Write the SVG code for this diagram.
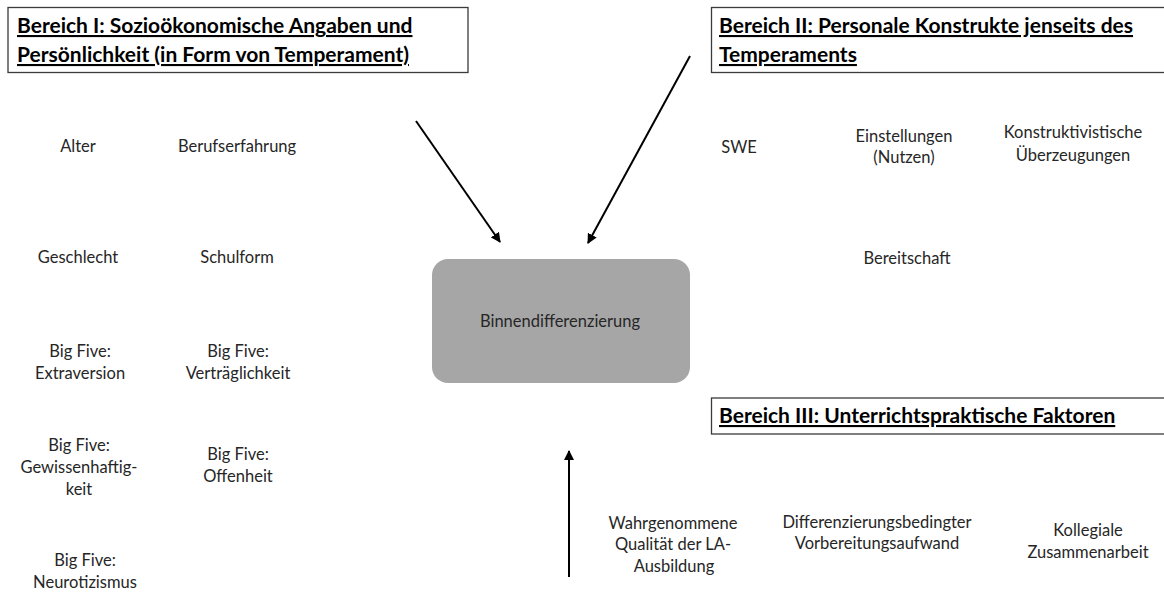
<svg xmlns="http://www.w3.org/2000/svg" width="1164" height="593" viewBox="0 0 1164 593">
  <style>
    .area { fill: #ffffff; stroke: #3a3a3a; stroke-width: 1.3; }
    .title { font-family: Lato, "Open Sans", "Liberation Sans", sans-serif; font-weight: bold; font-size: 21px; fill: #000000; text-decoration: underline; }
    .label { font-family: Lato, "Open Sans", "Liberation Sans", sans-serif; font-size: 16.5px; fill: #262626; text-anchor: middle; }
    .core { fill: #a6a6a6; stroke: none; }
    .conn { stroke: #000000; stroke-width: 2; fill: none; marker-end: url(#head); }
  </style>
  <defs>
    <marker id="head" viewBox="0 0 10 10" refX="9" refY="5" markerWidth="5" markerHeight="5" orient="auto" markerUnits="strokeWidth">
      <path d="M0,0 L10,5 L0,10 z" fill="#000000"/>
    </marker>
  </defs>
  <rect width="1164" height="593" fill="#ffffff"/>

  <!-- Area headings -->
  <g id="bereich1">
    <rect class="area" x="8" y="7.5" width="460" height="65"/>
    <text class="title" x="17" y="33">Bereich I: Sozioökonomische Angaben und</text>
    <text class="title" x="17" y="62">Persönlichkeit (in Form von Temperament)</text>
  </g>
  <g id="bereich2">
    <rect class="area" x="711.5" y="7.5" width="460" height="65"/>
    <text class="title" x="719" y="33">Bereich II: Personale Konstrukte jenseits des</text>
    <text class="title" x="719" y="62">Temperaments</text>
  </g>
  <g id="bereich3">
    <rect class="area" x="711.5" y="398" width="460" height="36"/>
    <text class="title" x="719" y="423">Bereich III: Unterrichtspraktische Faktoren</text>
  </g>

  <!-- Central outcome -->
  <g id="binnendifferenzierung">
    <rect class="core" x="432" y="259" width="258" height="124" rx="16" ry="16"/>
    <text class="label" x="560" y="327">Binnendifferenzierung</text>
  </g>

  <!-- Area I variables -->
  <g id="alter"><text class="label" x="78" y="152">Alter</text></g>
  <g id="berufserfahrung"><text class="label" x="237" y="152">Berufserfahrung</text></g>
  <g id="geschlecht"><text class="label" x="78" y="263">Geschlecht</text></g>
  <g id="schulform"><text class="label" x="237" y="263">Schulform</text></g>
  <g id="extraversion">
    <text class="label" x="80" y="357">Big Five:</text>
    <text class="label" x="80" y="379">Extraversion</text>
  </g>
  <g id="vertraeglichkeit">
    <text class="label" x="238" y="357">Big Five:</text>
    <text class="label" x="238" y="379">Verträglichkeit</text>
  </g>
  <g id="gewissenhaftigkeit">
    <text class="label" x="79" y="451">Big Five:</text>
    <text class="label" x="79" y="473">Gewissenhaftig-</text>
    <text class="label" x="79" y="495">keit</text>
  </g>
  <g id="offenheit">
    <text class="label" x="238" y="460">Big Five:</text>
    <text class="label" x="238" y="482">Offenheit</text>
  </g>
  <g id="neurotizismus">
    <text class="label" x="85" y="566">Big Five:</text>
    <text class="label" x="85" y="588">Neurotizismus</text>
  </g>

  <!-- Area II variables -->
  <g id="swe"><text class="label" x="739" y="153">SWE</text></g>
  <g id="einstellungen">
    <text class="label" x="904" y="142">Einstellungen</text>
    <text class="label" x="904" y="163">(Nutzen)</text>
  </g>
  <g id="konstruktivismus">
    <text class="label" x="1073" y="138">Konstruktivistische</text>
    <text class="label" x="1073" y="161">Überzeugungen</text>
  </g>
  <g id="bereitschaft"><text class="label" x="907" y="264">Bereitschaft</text></g>

  <!-- Area III variables -->
  <g id="ausbildung">
    <text class="label" x="673" y="529">Wahrgenommene</text>
    <text class="label" x="673" y="550">Qualität der LA-</text>
    <text class="label" x="674" y="572">Ausbildung</text>
  </g>
  <g id="vorbereitung">
    <text class="label" x="877" y="528">Differenzierungsbedingter</text>
    <text class="label" x="877" y="549">Vorbereitungsaufwand</text>
  </g>
  <g id="zusammenarbeit">
    <text class="label" x="1088" y="536">Kollegiale</text>
    <text class="label" x="1088" y="558">Zusammenarbeit</text>
  </g>

  <!-- Influence arrows -->
  <g id="connectors">
    <line class="conn" x1="416" y1="121" x2="500" y2="242"/>
    <line class="conn" x1="690" y1="56" x2="588" y2="243"/>
    <line class="conn" x1="569" y1="577" x2="569" y2="451"/>
  </g>
</svg>
